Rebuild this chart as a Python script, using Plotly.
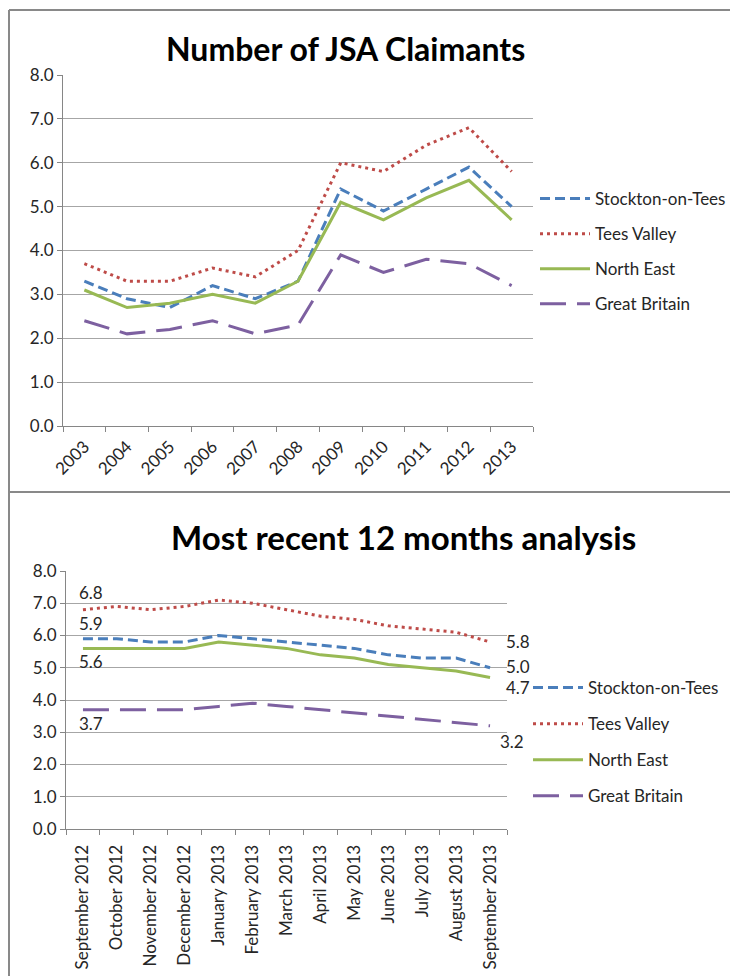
import plotly.graph_objects as go

years = ["2003", "2004", "2005", "2006", "2007", "2008", "2009", "2010", "2011", "2012", "2013"]
months = ["September 2012", "October 2012", "November 2012", "December 2012", "January 2013",
          "February 2013", "March 2013", "April 2013", "May 2013", "June 2013", "July 2013",
          "August 2013", "September 2013"]

names = ["Stockton-on-Tees", "Tees Valley", "North East", "Great Britain"]

stockton_years = [3.3, 2.9, 2.7, 3.2, 2.9, 3.3, 5.4, 4.9, 5.4, 5.9, 5.0]
teesvalley_years = [3.7, 3.3, 3.3, 3.6, 3.4, 4.0, 6.0, 5.8, 6.4, 6.8, 5.8]
northeast_years = [3.1, 2.7, 2.8, 3.0, 2.8, 3.3, 5.1, 4.7, 5.2, 5.6, 4.7]
gb_years = [2.4, 2.1, 2.2, 2.4, 2.1, 2.3, 3.9, 3.5, 3.8, 3.7, 3.2]

stockton_months = [5.9, 5.9, 5.8, 5.8, 6.0, 5.9, 5.8, 5.7, 5.6, 5.4, 5.3, 5.3, 5.0]
teesvalley_months = [6.8, 6.9, 6.8, 6.9, 7.1, 7.0, 6.8, 6.6, 6.5, 6.3, 6.2, 6.1, 5.8]
northeast_months = [5.6, 5.6, 5.6, 5.6, 5.8, 5.7, 5.6, 5.4, 5.3, 5.1, 5.0, 4.9, 4.7]
gb_months = [3.7, 3.7, 3.7, 3.7, 3.8, 3.9, 3.8, 3.7, 3.6, 3.5, 3.4, 3.3, 3.2]

y_ticks = [0, 1, 2, 3, 4, 5, 6, 7, 8]

W, H = 738, 976
OFF = 8  # page body margin
FONT = "Lato"
colors = ["#4A7EBB", "#BE4B48", "#98B954", "#7D60A0"]
dashes = ["10px,5px", "3px,4px", "solid", "26px,11px"]

annual = [stockton_years, teesvalley_years, northeast_years, gb_years]
monthly = [stockton_months, teesvalley_months, northeast_months, gb_months]

fig = go.Figure()

for i, nm in enumerate(names):
    fig.add_trace(go.Scatter(
        x=years, y=annual[i], name=nm, mode="lines",
        line=dict(color=colors[i], width=3, dash=dashes[i]),
        xaxis="x", yaxis="y", legend="legend", legendgroup="g%d" % i,
        hoverinfo="skip"))
for i, nm in enumerate(names):
    fig.add_trace(go.Scatter(
        x=months, y=monthly[i], name=nm, mode="lines",
        line=dict(color=colors[i], width=3, dash=dashes[i]),
        xaxis="x2", yaxis="y2", legend="legend2", legendgroup="h%d" % i,
        hoverinfo="skip"))

def px(x):
    return (x - OFF) / W

def py(y):
    return 1 - (y - OFF) / H

grid = "#A6A6A6"
axc = "#868686"
tickfont = dict(family=FONT, size=17, color="#262626")

common_y = dict(range=[0, 8], tickvals=y_ticks, tickformat=".1f", showgrid=True,
                gridcolor=grid, gridwidth=1, showline=True, linecolor=axc, linewidth=1,
                ticks="outside", ticklen=5, tickcolor=axc, tickfont=tickfont,
                zeroline=False, fixedrange=True, automargin=False)
common_x = dict(type="category", showgrid=False, showline=True, linecolor=axc, linewidth=1,
                ticks="outside", ticklen=5, tickcolor=axc, tickson="boundaries",
                tickfont=tickfont, fixedrange=True, automargin=False)

leg_font = dict(family=FONT, size=17, color="#262626")

fig.update_layout(
    template="none",
    width=W, height=H, margin=dict(l=0, r=0, t=0, b=0, pad=0, autoexpand=False),
    paper_bgcolor="white", plot_bgcolor="white",
    font=dict(family=FONT, color="#262626"),
    xaxis=dict(domain=[px(63), px(533)], anchor="y", tickangle=-45,
               range=[-0.5, len(years) - 0.5], ticklabelstandoff=3, **common_x),
    yaxis=dict(domain=[py(426), py(75)], anchor="x", **common_y),
    xaxis2=dict(domain=[px(66), px(507)], anchor="y2", tickangle=-90,
                range=[-0.5, len(months) - 0.5], ticklabelstandoff=8, **common_x),
    yaxis2=dict(domain=[py(829), py(571)], anchor="x2", **common_y),
    legend=dict(x=px(535), y=py(181), xanchor="left", yanchor="top",
                font=leg_font, itemwidth=50, tracegroupgap=10,
                bgcolor="rgba(0,0,0,0)", traceorder="grouped"),
    legend2=dict(x=px(528), y=py(670), xanchor="left", yanchor="top",
                 font=leg_font, itemwidth=50, tracegroupgap=11,
                 bgcolor="rgba(0,0,0,0)", traceorder="grouped"),
    showlegend=True,
)

# Titles
fig.add_annotation(text="<b>Number of JSA Claimants</b>", xref="paper", yref="paper",
                   x=px(345), y=py(48), showarrow=False, xanchor="center", yanchor="middle",
                   font=dict(family=FONT, size=32, color="black"))
fig.add_annotation(text="<b>Most recent 12 months analysis</b>", xref="paper", yref="paper",
                   x=px(403), y=py(537), showarrow=False, xanchor="center", yanchor="middle",
                   font=dict(family=FONT, size=33, color="black"))

# Data labels on the monthly chart
lab_font = dict(family=FONT, size=17, color="#262626")
first = months[0]
last = months[-1]
for val, ys in [(teesvalley_months[0], 17), (stockton_months[0], 15),
                (northeast_months[0], -13), (gb_months[0], -14)]:
    fig.add_annotation(text="%.1f" % val, x=first, y=val, xref="x2", yref="y2",
                       showarrow=False, xanchor="left", yanchor="middle",
                       xshift=-6, yshift=ys, font=lab_font)
for val, xs, ys in [(teesvalley_months[-1], 14, 0), (stockton_months[-1], 14, 1),
                    (northeast_months[-1], 14, -10), (gb_months[-1], 8, -16)]:
    fig.add_annotation(text="%.1f" % val, x=last, y=val, xref="x2", yref="y2",
                       showarrow=False, xanchor="left", yanchor="middle",
                       xshift=xs, yshift=ys, font=lab_font)

# Chart borders
bc = "#898989"
fig.add_shape(type="line", xref="paper", yref="paper", x0=px(9), x1=px(9), y0=py(10), y1=0,
              line=dict(color=bc, width=2))
fig.add_shape(type="line", xref="paper", yref="paper", x0=px(9), x1=1, y0=py(10), y1=py(10),
              line=dict(color=bc, width=2))
fig.add_shape(type="line", xref="paper", yref="paper", x0=px(9), x1=1, y0=py(492), y1=py(492),
              line=dict(color=bc, width=2))

fig.write_html("out.html")
